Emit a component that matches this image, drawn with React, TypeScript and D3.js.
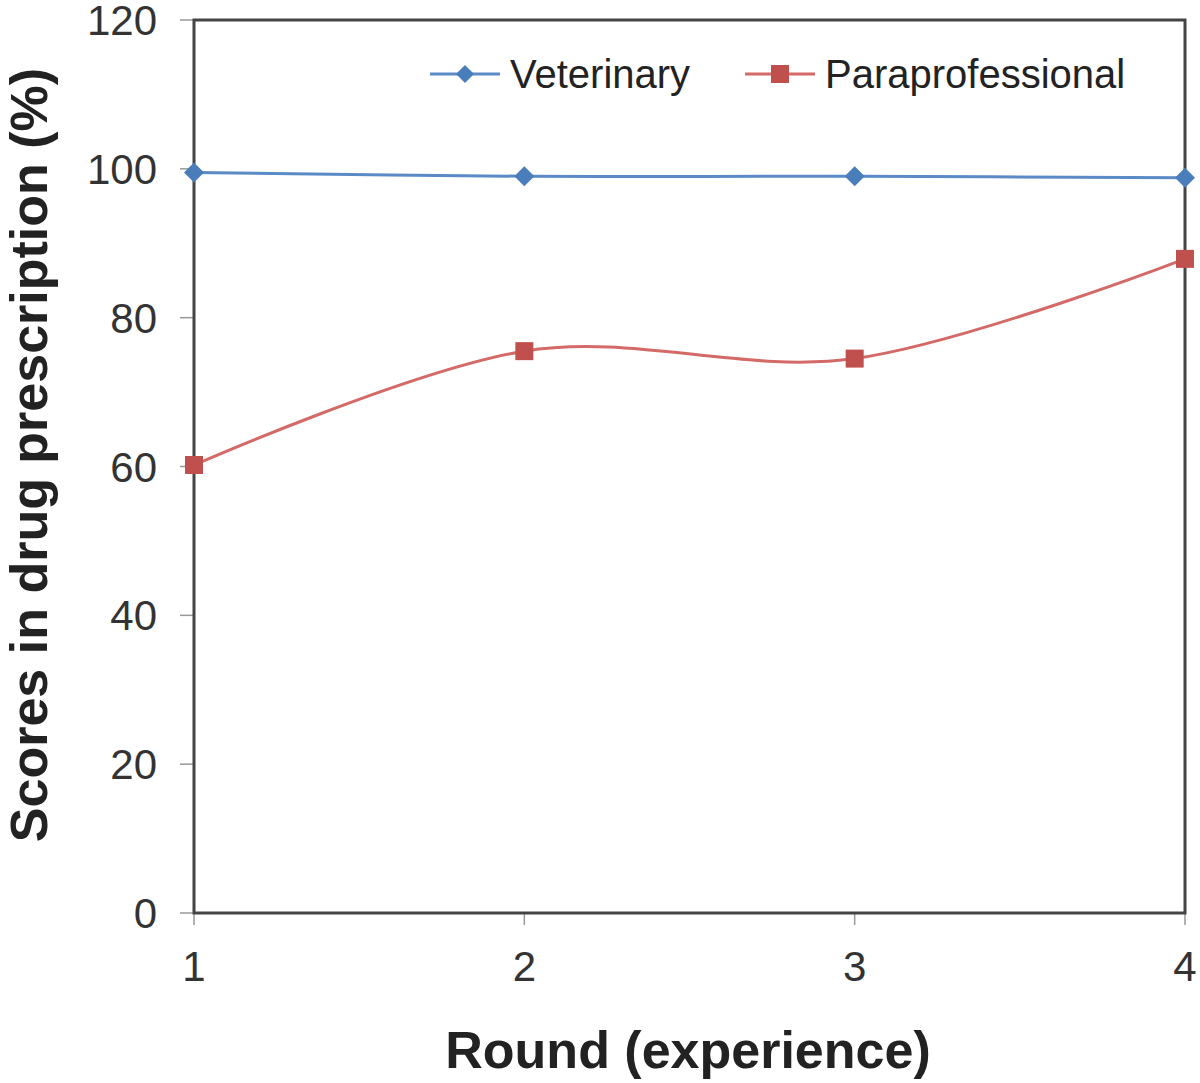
import React from "react";
import * as d3 from "d3";

const rounds = [1, 2, 3, 4];
const veterinary = [99.5, 99.0, 99.0, 98.8];
const paraprofessional = [60.2, 75.5, 74.5, 87.9];
const yTicks = [0, 20, 40, 60, 80, 100, 120];
const seriesNames = ["Veterinary", "Paraprofessional"];

const W = 1200, H = 1083;
const left = 194, right = 1185, top = 20, bottom = 913;
const FONT = "'Liberation Sans', Arial, sans-serif";

export default function App() {
  const x = d3.scaleLinear().domain([1, 4]).range([left, right]);
  const y = d3.scaleLinear().domain([0, 120]).range([bottom, top]);
  const line = d3
    .line<number>()
    .x((_, i) => x(rounds[i]))
    .y((d) => y(d))
    .curve(d3.curveCardinal.tension(0));

  const blue = "#4a7ebb";
  const blueLine = "#5b8bc6";
  const red = "#c0504d";
  const redLine = "#d46a68";

  const diamond = (cx: number, cy: number, r: number) =>
    `M${cx},${cy - r}L${cx + r},${cy}L${cx},${cy + r}L${cx - r},${cy}Z`;

  return (
    <svg
      width={W}
      height={H}
      style={{ position: "absolute", left: 0, top: 0, background: "#fff" }}
      fontFamily={FONT}
    >
      <rect x={0} y={0} width={W} height={H} fill="#fff" />
      {yTicks.map((t) => (
        <g key={t}>
          <line x1={180} x2={left} y1={y(t)} y2={y(t)} stroke="#999" strokeWidth={1.5} />
          <text x={157} y={y(t) + 15} textAnchor="end" fontSize={42} fill="#333">
            {t}
          </text>
        </g>
      ))}
      {rounds.map((r) => (
        <g key={r}>
          <line x1={x(r)} x2={x(r)} y1={bottom} y2={925} stroke="#999" strokeWidth={1.5} />
          <text x={x(r)} y={981} textAnchor="middle" fontSize={42} fill="#333">
            {r}
          </text>
        </g>
      ))}
      <rect
        x={left}
        y={top}
        width={right - left}
        height={bottom - top}
        fill="none"
        stroke="#444"
        strokeWidth={3}
      />
      <path d={line(veterinary) || ""} fill="none" stroke={blueLine} strokeWidth={3} />
      <path d={line(paraprofessional) || ""} fill="none" stroke={redLine} strokeWidth={3} />
      {veterinary.map((v, i) => (
        <path key={"v" + i} d={diamond(x(rounds[i]), y(v), 10)} fill={blue} />
      ))}
      {paraprofessional.map((v, i) => (
        <rect key={"p" + i} x={x(rounds[i]) - 9} y={y(v) - 9} width={18} height={18} fill={red} />
      ))}
      <g>
        <line x1={430} x2={500} y1={74} y2={74} stroke={blueLine} strokeWidth={3} />
        <path d={diamond(465, 74, 9)} fill={blue} />
        <text x={510} y={88} fontSize={40} fill="#222">
          {seriesNames[0]}
        </text>
        <line x1={745} x2={815} y1={74} y2={74} stroke={redLine} strokeWidth={3} />
        <rect x={771} y={65} width={18} height={18} fill={red} />
        <text x={825} y={88} fontSize={40} fill="#222">
          {seriesNames[1]}
        </text>
      </g>
      <text x={688} y={1068} textAnchor="middle" fontSize={52} fontWeight="bold" fill="#222">
        Round (experience)
      </text>
      <text
        transform={`translate(47,455) rotate(-90)`}
        textAnchor="middle"
        fontSize={52}
        fontWeight="bold"
        fill="#222"
      >
        Scores in drug prescription (%)
      </text>
    </svg>
  );
}
